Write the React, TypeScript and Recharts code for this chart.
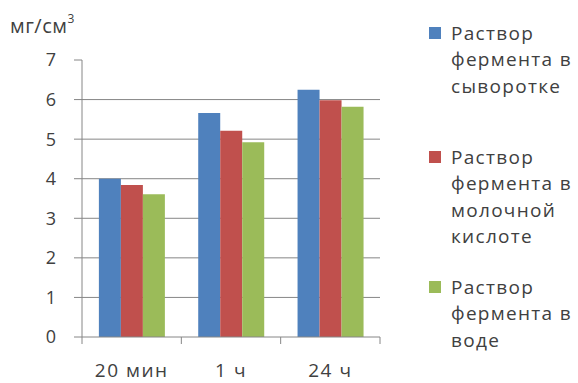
import React from 'react';
import { BarChart, Bar, XAxis, YAxis, CartesianGrid } from 'recharts';

const categories = ['20 мин', '1 ч', '24 ч'];
const serumValues = [4.0, 5.66, 6.25];
const lacticValues = [3.84, 5.21, 5.98];
const waterValues = [3.61, 4.92, 5.82];
const seriesKeys = ['serum', 'lactic', 'water'];
const seriesNames = [
  'Раствор фермента в сыворотке',
  'Раствор фермента в молочной кислоте',
  'Раствор фермента в воде'
];
const seriesColors = ['#4F81BD', '#C0504D', '#9BBB59'];
const yTicks = [0, 1, 2, 3, 4, 5, 6, 7];
const gridValues = [1, 2, 3, 4, 5, 6];

const data = categories.map((name, i) => ({
  name,
  serum: serumValues[i],
  lactic: lacticValues[i],
  water: waterValues[i]
}));

const FONT = '"Open Sans", sans-serif';
const TEXT = '#404040';
const LINE = '#868686';
const X_TICK_MARGIN = 27;
const X_TICK_LEN = 7;

// space above each legend entry
const entryGaps = [0, 44.5, 24];

// category label plus tick marks on the band edges
const CategoryTick = (props: any) => {
  const { x, y, payload, index, visibleTicksCount } = props;
  const half = payload.offset || 0;
  const axisY = y - X_TICK_MARGIN;
  const edges = [x - half];
  if (index === visibleTicksCount - 1) edges.push(x + half);
  return <g>
      {edges.map(ex => <line key={ex} x1={ex} x2={ex} y1={axisY} y2={axisY + X_TICK_LEN} stroke={LINE} />)}
      <text x={x} y={y} dy="0.71em" textAnchor="middle" fill={TEXT} fontSize={19} fontFamily={FONT} letterSpacing={1.5}>
        {payload.value}
      </text>
    </g>;
};

const App: React.FC = () => {
  return <div style={{
    position: 'absolute',
    left: 0,
    top: 0,
    width: 578,
    height: 383,
    background: '#fff',
    fontFamily: FONT
  }}>
      <div style={{
      position: 'absolute',
      left: 10,
      top: 12,
      fontSize: 20,
      color: TEXT,
      lineHeight: '28px',
      letterSpacing: 0.5
    }}>
        мг/см<sup style={{
        fontSize: 12,
        verticalAlign: 'top',
        lineHeight: '14px'
      }}>3</sup>
      </div>
      <BarChart width={578} height={383} data={data} barCategoryGap="17%" barGap={0} margin={{
      top: 60,
      right: 198,
      left: 22,
      bottom: 16
    }}>
        <CartesianGrid vertical={false} horizontalValues={gridValues} stroke={LINE} />
        <XAxis dataKey="name" height={30} stroke={LINE} tickLine={false} tickSize={0} tickMargin={X_TICK_MARGIN} interval={0} tick={<CategoryTick />} />
        <YAxis width={60} domain={[0, 7]} ticks={yTicks} interval={0} tickSize={8} tickMargin={18} stroke={LINE} tick={{
        fill: TEXT,
        fontSize: 18,
        fontFamily: FONT
      }} />
        {seriesKeys.map((key, i) => <Bar key={key} dataKey={key} name={seriesNames[i]} fill={seriesColors[i]} isAnimationActive={false} />)}
      </BarChart>
      <div style={{
      position: 'absolute',
      left: 429,
      top: 19.75,
      width: 149
    }}>
        {seriesNames.map((name, i) => <div key={name} style={{
        display: 'flex',
        marginTop: entryGaps[i]
      }}>
            <div style={{
          width: 12,
          height: 12,
          marginTop: 7.25,
          marginRight: 10,
          background: seriesColors[i],
          flexShrink: 0
        }} />
            <div style={{
          width: 128,
          fontSize: 19,
          lineHeight: '26.5px',
          letterSpacing: 1.3,
          color: TEXT
        }}>{name}</div>
          </div>)}
      </div>
    </div>;
};

export default App;
